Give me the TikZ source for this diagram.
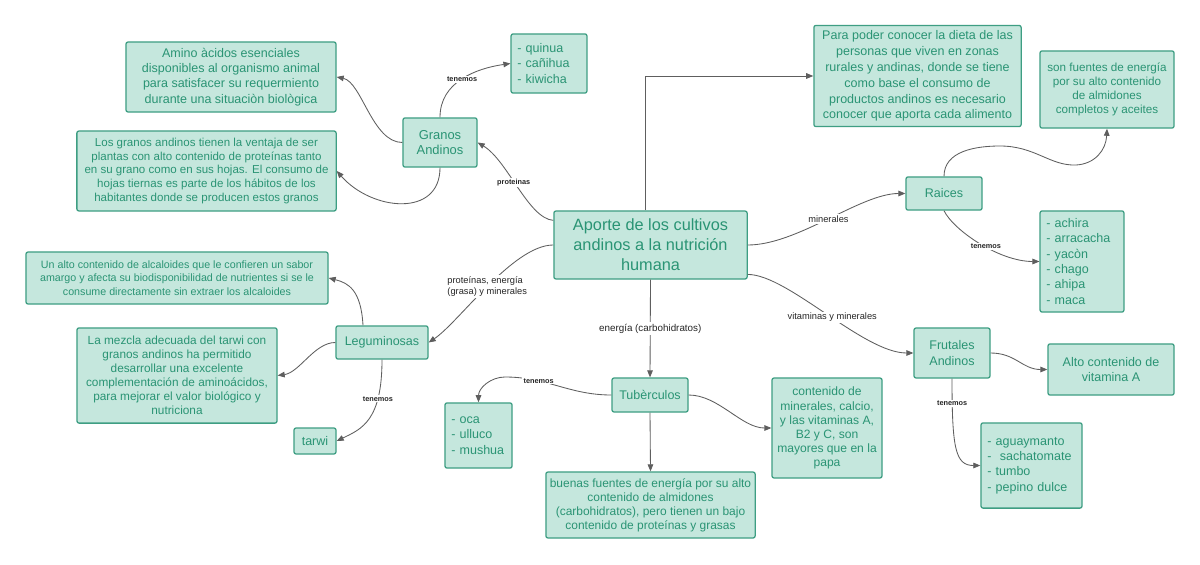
\documentclass[tikz,border=0pt]{standalone}
\usepackage{fontspec}
\setmainfont{Liberation Sans}
\usetikzlibrary{arrows.meta}
\definecolor{boxfill}{HTML}{C5E7DD}
\definecolor{boxline}{HTML}{3E9E83}
\definecolor{boxtext}{HTML}{2A9474}
\definecolor{linkgray}{HTML}{5E5E5E}
\def\fsz#1#2{\fontsize{#1}{#2}\selectfont}
\tikzset{
	concept/.style={draw=boxline, fill=boxfill, text=boxtext, line width=0.9pt, rounded corners=1.5pt, align=center, inner sep=2pt, font=\fsz{8.9}{10.9}},
	listbox/.style={concept, align=left, inner xsep=4.5pt},
	link/.style={draw=linkgray, line width=0.6pt, -{Triangle[length=5pt,width=4pt]}},
	tag/.style={fill=white, text=black!85, inner sep=0.8pt, font=\bfseries\fsz{5.2}{6}},
	flow/.style={fill=white, text=black!85, inner sep=1pt, align=left, font=\fsz{6.6}{8}},
}

\begin{document}
\begin{tikzpicture}[x=0.025cm, y=-0.025cm]
			%%%%% START %%%%%
			\fill[white] (0,0) rectangle (1200,564);
			
			\node[concept, font=\fsz{11.6}{14.2}, minimum width=4.83cm, minimum height=1.70cm] (aporte) at (650.5,245) {Aporte de los cultivos\\andinos a la nutrición\\humana};
			
			% granos andinos
			\node[concept, font=\fsz{9.2}{11.2}, minimum width=1.85cm, minimum height=1.23cm] (granos) at (440,142.5) {Granos\\Andinos};
			\node[listbox, text width=1.58cm, minimum height=1.48cm] (granlist) at (549,63.5) {- quinua\\- cañihua\\- kiwicha};
			\node[concept, minimum width=5.25cm, minimum height=1.75cm] (amino) at (231,77) {Amino àcidos esenciales\\disponibles al organismo animal\\para satisfacer su requermiento\\durante una situaciòn biològica};
			\node[concept, font=\fsz{8.2}{9.9}, minimum width=6.48cm, minimum height=2.0cm] (ventaja) at (206.5,171) {Los granos andinos tienen la ventaja de ser\\plantas con alto contenido de proteínas tanto\\en su grano como en sus hojas. El consumo de\\hojas tiernas es parte de los hábitos de los\\habitantes donde se producen estos granos};
			
			% arriba a la derecha
			\node[concept, font=\fsz{8.9}{11.3}, minimum width=5.18cm, minimum height=2.53cm] (dieta) at (917.5,76) {Para poder conocer la dieta de las\\personas que viven en zonas\\rurales y andinas, donde se tiene\\como base el consumo de\\productos andinos es necesario\\conocer que aporta cada alimento};
			\node[concept, font=\fsz{8.3}{10.1}, minimum width=3.35cm, minimum height=1.93cm] (fuentes) at (1107,89.5) {son fuentes de energía\\por su alto contenido\\de almidones\\completos y aceites};
			
			% raices
			\node[concept, minimum width=1.9cm, minimum height=0.83cm] (raices) at (944,193.5) {Raices};
			\node[listbox, text width=1.78cm, minimum height=2.53cm] (raizlist) at (1082,261.5) {- achira\\- arracacha\\- yacòn\\- chago\\- ahipa\\- maca};
			
			% frutales
			\node[concept, minimum width=1.9cm, minimum height=1.25cm] (frutales) at (952,353) {Frutales\\Andinos};
			\node[concept, minimum width=3.15cm, minimum height=1.28cm] (vitA) at (1111,369.5) {Alto contenido de\\vitamina A};
			\node[listbox, text width=2.21cm, minimum height=2.13cm] (frutlist) at (1031.5,465.5) {- aguaymanto\\- \ sachatomate\\- tumbo\\- pepino dulce};
			
			% tuberculos
			\node[concept, minimum width=1.9cm, minimum height=0.85cm] (tuber) at (650,395) {Tubèrculos};
			\node[listbox, text width=1.36cm, minimum height=1.63cm] (tuberlist) at (478.5,435.5) {- oca\\- ulluco\\- mushua};
			\node[concept, font=\fsz{8.5}{9.9}, minimum width=5.23cm, minimum height=1.65cm] (energia) at (650.5,505) {buenas fuentes de energía por su alto\\contenido de almidones\\(carbohidratos), pero tienen un bajo\\contenido de proteínas y grasas};
			\node[concept, font=\fsz{8.6}{10}, minimum width=2.75cm, minimum height=2.5cm] (minerales) at (827,428) {contenido de\\minerales, calcio,\\y las vitaminas A,\\B2 y C, son\\mayores que en la\\papa};
			
			% leguminosas
			\node[concept, minimum width=2.3cm, minimum height=0.83cm] (legum) at (382,342.5) {Leguminosas};
			\node[concept, font=\fsz{7.6}{9.5}, minimum width=7.55cm, minimum height=1.3cm] (alcaloides) at (177,278) {Un alto contenido de alcaloides que le confieren un sabor\\amargo y afecta su biodisponibilidad de nutrientes si se le\\consume directamente sin extraer los alcaloides};
			\node[concept, font=\fsz{8.4}{10}, minimum width=5.0cm, minimum height=2.38cm] (mezcla) at (177,375.5) {La mezcla adecuada del tarwi con\\granos andinos ha permitido\\desarrollar una excelente\\complementación de aminoácidos,\\para mejorar el valor biológico y\\nutriciona};
			\node[concept, minimum width=1.05cm, minimum height=0.65cm] (tarwi) at (315,441) {tarwi};
			
			% conectores desde el centro
			\draw[link] ([xshift=-0.13cm]aporte.north) |- (dieta.west);
			\draw[link] ([yshift=-0.25cm]aporte.north west) .. controls +(-25,-2) and +(30,18) .. node[tag, pos=0.55] {proteinas} (granos.east);
			\draw[link] (aporte.west) .. controls +(-40,0) and +(30,-20) .. node[flow, pos=0.5] {proteínas, energía\\(grasa) y minerales} (legum.east);
			\draw[link] (aporte.south) -- node[flow, font=\fsz{7}{8}] {energía (carbohidratos)} (tuber.north);
			\draw[link] (aporte.east) .. controls +(50,0) and +(-45,0) .. node[flow, pos=0.5] {minerales} (raices.west);
			\draw[link] ([yshift=0.13cm]aporte.south east) .. controls +(40,0) and +(-50,0) .. node[flow, pos=0.53] {vitaminas y minerales} (frutales.west);
			
			% granos
			\draw[link] (granos.north) .. controls +(0,-35) and +(-35,5) .. node[tag] {tenemos} (granlist.west);
			\draw[link] (granos.west) .. controls +(-30,0) and +(25,5) .. (amino.east);
			\draw[link] (granos.south) .. controls +(0,50) and +(35,40) .. (ventaja.east);
			
			% raices
			\draw[link] (raices.north) .. controls +(0,-25) and (975,146) .. (1000,146) .. controls (1035,146) and (1050,166) .. (1076,165) .. controls (1095,164) and (1106,150) .. (fuentes.south);
			\draw[link] (raices.south) .. controls +(10,20) and +(-40,0) .. node[tag, pos=0.55] {tenemos} (raizlist.west);
			
			% frutales
			\draw[link] (frutales.east) .. controls +(25,0) and +(-25,0) .. (vitA.west);
			\draw[link] (frutales.south) .. controls +(0,70) and +(-25,0) .. node[tag, pos=0.13] {tenemos} (frutlist.west);
			
			% tuberculos
			\draw[link] (tuber.west) to[out=180, in=0] node[tag, pos=0.7] {tenemos} (505,377) to[out=180, in=90] (tuberlist.north);
			\draw[link] (tuber.south) -- (energia.north);
			\draw[link] (tuber.east) .. controls +(30,0) and +(-30,0) .. (minerales.west);
			
			% leguminosas
			\draw[link] ([xshift=-0.475cm]legum.north) .. controls +(-2,-35) and +(20,5) .. (alcaloides.east);
			\draw[link] (legum.west) .. controls +(-21,0) and +(22,-3) .. (mezcla.east);
			\draw[link] (legum.south) .. controls +(0,61) and +(25,-12) .. node[tag, pos=0.27] {tenemos} (tarwi.east);
			
			%%%%% END %%%%%
\end{tikzpicture}
\end{document}
